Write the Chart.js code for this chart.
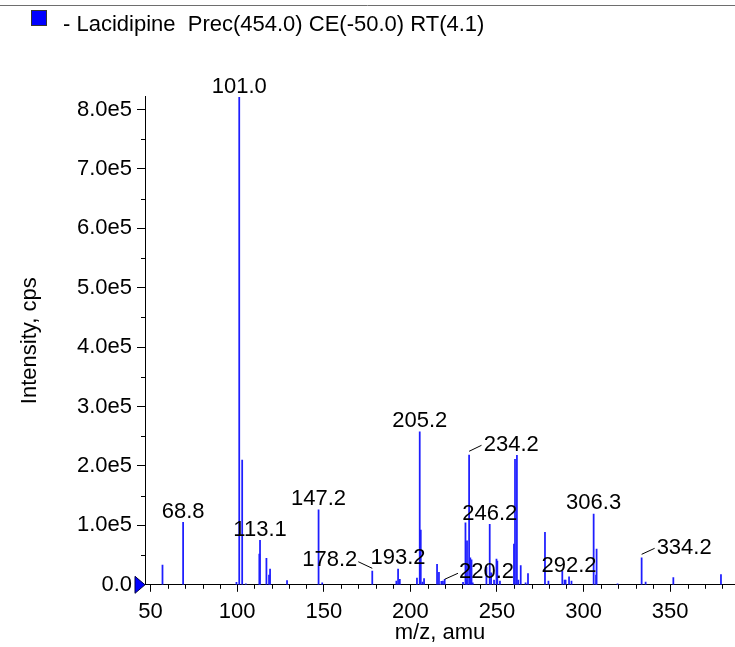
<!DOCTYPE html>
<html><head><meta charset="utf-8">
<script src="https://cdn.jsdelivr.net/npm/chart.js@4.4.1/dist/chart.umd.min.js"></script>
<style>html,body{margin:0;padding:0;background:#fff;}#wrap{width:735px;height:647px;position:relative;}</style>
</head><body><div id="wrap"><canvas id="c"></canvas></div>
<script>
// ---------- data ----------
const seriesLabel = '- Lacidipine  Prec(454.0) CE(-50.0) RT(4.1)';
const mzValues = [56.9,68.8,99.6,101.2,102.9,105.0,112.8,113.2,116.9,118.4,119.0,128.8,147.0,149.1,178.0,
  191.9,192.9,193.9,203.8,205.4,206.0,207.0,207.9,215.4,216.5,217.9,218.8,219.8,230.4,231.8,232.5,232.7,233.9,
  234.6,235.3,236.0,243.9,245.8,246.6,248.3,249.7,250.2,251.7,259.8,260.4,261.5,262.3,263.7,266.5,267.9,277.7,
  279.7,287.7,289.0,289.6,291.6,293.0,305.8,307.2,307.5,319.6,333.5,335.8,351.8,379.3];
const intensities = [33300,105200,4200,820500,210000,1500,51900,74900,44600,16500,26600,6900,126400,3500,23200,
  6400,26600,9300,11400,257700,92300,4700,10300,34500,21000,5900,6400,9300,4200,104500,8000,74200,218500,
  45600,42000,3500,30000,101900,20000,8000,43400,40000,6400,68700,211300,218000,8000,32200,3500,18700,88400,
  6400,23700,8000,8000,13600,6400,119200,16500,60300,1500,45600,4700,12000,17000];
const xTickValues = [50,100,150,200,250,300,350];
const xTickLabels = ['50','100','150','200','250','300','350'];
const xMinorTickValues = [60,70,80,90,110,120,130,140,160,170,180,190,210,220,230,240,260,270,280,290,310,320,330,340,360,370,380];
const yTickValues = [0,100000,200000,300000,400000,500000,600000,700000,800000];
const yTickLabels = ['0.0','1.0e5','2.0e5','3.0e5','4.0e5','5.0e5','6.0e5','7.0e5','8.0e5'];
const yMinorTickValues = [50000,150000,250000,350000,450000,550000,650000,750000];
const peakLabelTexts = ['68.8','101.0','113.1','147.2','178.2','193.2','205.2','220.2','234.2','246.2','292.2','306.3','334.2'];
const peakLabelMz = [68.8,101.2,113.2,147.0,178.0,192.9,205.4,219.8,233.9,245.8,291.6,305.8,333.5];

// ---------- styles ----------
const FONT = '"Liberation Sans", Arial, Helvetica, sans-serif';
const FS = 22;
const leaderStyles = {
  '178.2': {dir:-1, y0:-2.7, x1:14, y1:-9.3, tx:15, ty:-5},
  '220.2': {dir:1, y0:0, x1:13.3, y1:-6, tx:14.3, ty:-0.8},
  '234.2': {dir:1, y0:-3.7, x1:12.4, y1:-9.7, tx:14.7, ty:-3.8},
  '334.2': {dir:1, y0:-3.4, x1:13, y1:-9.4, tx:15, ty:-4.1}
};

const decoPlugin = {
  id: 'deco',
  afterDraw(chart) {
    const ctx = chart.ctx, xs = chart.scales.x, ys = chart.scales.y;
    ctx.save();
    // top rule
    ctx.strokeStyle = '#6e6e6e'; ctx.lineWidth = 1;
    ctx.beginPath(); ctx.moveTo(0, 5.5); ctx.lineTo(735, 5.5); ctx.stroke();
    // legend
    ctx.fillStyle = '#0000ff'; ctx.fillRect(31, 10, 16, 16);
    ctx.strokeStyle = '#333'; ctx.strokeRect(31.5, 10.5, 15, 15);
    ctx.fillStyle = '#000'; ctx.font = FS + 'px ' + FONT;
    ctx.textAlign = 'left'; ctx.textBaseline = 'alphabetic';
    ctx.fillText(seriesLabel, 63, 30.7);
    // minor ticks
    ctx.strokeStyle = '#000'; ctx.lineWidth = 1;
    const yb = ys.bottom;
    xMinorTickValues.forEach(v => {
      const px = Math.round(xs.getPixelForValue(v)) + 0.5;
      ctx.beginPath(); ctx.moveTo(px, yb); ctx.lineTo(px, yb + 4); ctx.stroke();
    });
    const xl = xs.left;
    yMinorTickValues.forEach(v => {
      const py = Math.round(ys.getPixelForValue(v)) + 0.5;
      ctx.beginPath(); ctx.moveTo(xl, py); ctx.lineTo(xl - 4, py); ctx.stroke();
    });
    // origin marker
    const y0 = ys.getPixelForValue(0);
    ctx.fillStyle = '#0000ff'; ctx.strokeStyle = '#000040';
    ctx.beginPath(); ctx.moveTo(xl, y0); ctx.lineTo(xl - 10, y0 - 8.5); ctx.lineTo(xl - 10, y0 + 8.5); ctx.closePath();
    ctx.fill(); ctx.stroke();
    ctx.restore();
  },
  afterDatasetsDraw(chart) {
    const ctx = chart.ctx, meta = chart.getDatasetMeta(0);
    ctx.save();
    ctx.font = FS + 'px ' + FONT; ctx.fillStyle = '#000'; ctx.strokeStyle = '#000'; ctx.lineWidth = 1;
    ctx.textBaseline = 'alphabetic';
    peakLabelTexts.forEach((t, i) => {
      const idx = mzValues.indexOf(peakLabelMz[i]);
      const el = meta.data[idx];
      const bx = el.x, top = el.y;
      const st = leaderStyles[t];
      if (!st) {
        ctx.textAlign = 'center';
        ctx.fillText(t, bx, top - 4.5);
      } else {
        ctx.beginPath();
        ctx.moveTo(bx, top + st.y0);
        ctx.lineTo(bx + st.dir * st.x1, top + st.y1);
        ctx.stroke();
        ctx.textAlign = st.dir > 0 ? 'left' : 'right';
        ctx.fillText(t, bx + st.dir * st.tx, top + st.ty);
      }
    });
    ctx.restore();
  }
};

new Chart(document.getElementById('c'), {
  type: 'bar',
  data: {
    datasets: [{
      label: seriesLabel,
      data: mzValues.map((m, i) => ({x: m, y: intensities[i]})),
      backgroundColor: 'rgb(30,30,255)',
      borderWidth: 0,
      barThickness: 1.1
    }]
  },
  options: {
    responsive: true, maintainAspectRatio: false, animation: false,
    layout: {padding: {left: 0, right: 0, top: 96.7, bottom: 0}},
    plugins: {legend: {display: false}, tooltip: {enabled: false}},
    scales: {
      x: {
        type: 'linear', min: 46.8, max: 387.4, offset: false,
        afterFit: s => { s.height = 647 - 96.7 - (584.8 - 96.7); },
        afterBuildTicks: s => { s.ticks = xTickValues.map(v => ({value: v})); },
        ticks: {autoSkip: false, maxRotation: 0, padding: 7, color: '#000', font: {family: FONT, size: FS},
          callback: (v) => { const k = xTickValues.indexOf(v); return k >= 0 ? xTickLabels[k] : ''; }},
        grid: {offset: false, drawOnChartArea: false, drawTicks: true, tickLength: 7, tickColor: '#000', tickWidth: 1},
        border: {display: true, color: '#000', width: 1},
        title: {display: true, text: 'm/z, amu', color: '#000', font: {family: FONT, size: FS}, padding: {top: 0, bottom: 1}}
      },
      y: {
        type: 'linear', min: 0, max: 821700,
        afterFit: s => { s.width = 145; },
        afterBuildTicks: s => { s.ticks = yTickValues.map(v => ({value: v})); },
        ticks: {autoSkip: false, padding: 5, color: '#000', font: {family: FONT, size: FS},
          callback: (v) => { const k = yTickValues.indexOf(v); return k >= 0 ? yTickLabels[k] : ''; }},
        grid: {drawOnChartArea: false, drawTicks: true, tickLength: 8, tickColor: '#000', tickWidth: 1},
        border: {display: true, color: '#000', width: 1},
        title: {display: true, text: 'Intensity, cps', color: '#000', font: {family: FONT, size: FS}, padding: {top: 17, bottom: 0}}
      }
    }
  },
  plugins: [decoPlugin]
});
</script></body></html>
